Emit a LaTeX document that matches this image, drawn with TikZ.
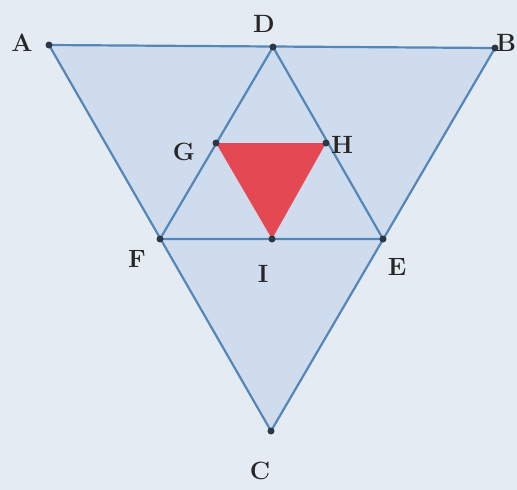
\documentclass[tikz,border=0pt]{standalone}
\usepackage{fontspec}
\definecolor{bgc}{RGB}{229,235,243}
\definecolor{fillc}{RGB}{207,220,237}
\definecolor{linec}{RGB}{84,134,184}
\definecolor{redc}{RGB}{228,72,82}
\definecolor{dotc}{RGB}{45,55,70}
\tikzset{
  edge/.style={draw=linec, line width=2.2pt},
  pt/.style={circle, fill=dotc, inner sep=0pt, minimum size=7pt},
  lbl/.style={font=\fontsize{25}{25}\selectfont\bfseries, text=black!85, inner sep=0pt}
}
\begin{document}
\begin{tikzpicture}[x=1pt,y=-1pt]
\fill[bgc] (0,0) rectangle (517,490);
\useasboundingbox (0,0) rectangle (517,490);
\coordinate (A) at (49,45);
\coordinate (B) at (495,48);
\coordinate (C) at (271,431);
\coordinate (D) at (273,47);
\coordinate (E) at (383,239);
\coordinate (F) at (160,239);
\coordinate (G) at (216,143);
\coordinate (H) at (326,143);
\coordinate (I) at (272,239);
\fill[fillc] (A) -- (B) -- (C) -- cycle;
\fill[redc] (G) -- (H) -- (I) -- cycle;
\draw[edge, line join=round] (A) -- (B) -- (C) -- cycle;
\draw[edge] (D) -- (F) -- (E) -- cycle;
\node[pt] (pA) at (A) {};
\node[pt] (pB) at (B) {};
\node[pt] (pC) at (C) {};
\node[pt] (pD) at (D) {};
\node[pt] (pE) at (E) {};
\node[pt] (pF) at (F) {};
\node[pt] (pG) at (G) {};
\node[pt] (pH) at (H) {};
\node[pt] (pI) at (I) {};
\node[lbl] (lA) at (22,43) {A};
\node[lbl] (lB) at (506,43) {B};
\node[lbl] (lC) at (260,471) {C};
\node[lbl] (lD) at (264,24) {D};
\node[lbl] (lE) at (397,267) {E};
\node[lbl] (lF) at (137,259) {F};
\node[lbl] (lG) at (184,152) {G};
\node[lbl] (lH) at (342,145) {H};
\node[lbl] (lI) at (263,274) {I};
\end{tikzpicture}
\end{document}
